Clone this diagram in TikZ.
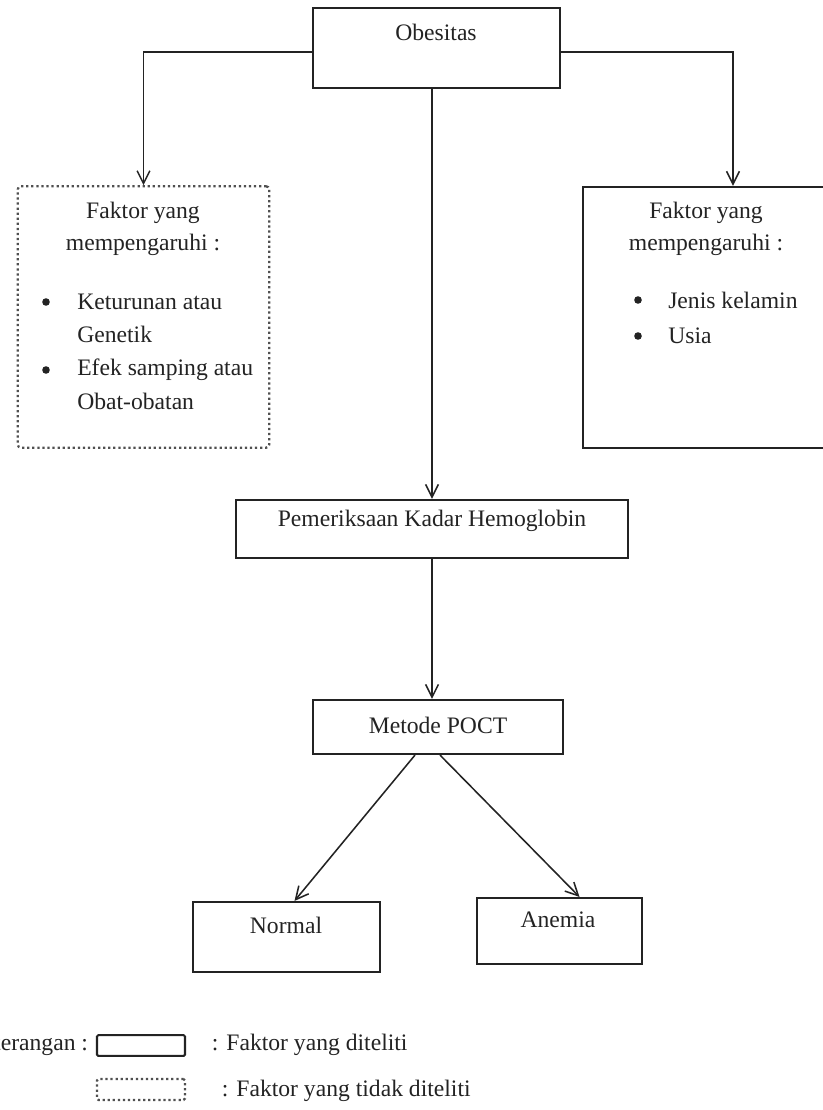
\documentclass[tikz,border=0pt]{standalone}
\usepackage{fontspec}
\setmainfont{Liberation Serif}
\usetikzlibrary{arrows.meta,calc}
\definecolor{inkgray}{RGB}{35,35,35}
\definecolor{dotgray}{RGB}{80,80,80}

\begin{document}
\begin{tikzpicture}[x=0.025cm, y=-0.025cm, >={Straight Barb[length=3.2mm,width=3.2mm]},
  font=\fontsize{16.8}{22.7}\selectfont, text=inkgray,
  box/.style={draw=inkgray, line width=1.5pt, inner sep=0pt},
  nobox/.style={draw=dotgray, line width=1.6pt, dotted, rounded corners=2pt, inner sep=0pt},
  dot/.style={circle, fill=inkgray, inner sep=0pt, minimum size=0.19cm},
  link/.style={draw=inkgray, line width=1.1pt}]
\useasboundingbox (0,0) rectangle (822,1110);

% boxes
\node[box, minimum width=6.18cm, minimum height=2.0cm] (obes) at (436.5,48) {};
\node[nobox, minimum width=6.28cm, minimum height=6.53cm] (fak1) at (143.5,317) {};
\node[box, minimum width=6.13cm, minimum height=6.53cm] (fak2) at (705.5,317.5) {};
\node[box, minimum width=9.8cm, minimum height=1.45cm] (pem) at (432,529) {};
\node[box, minimum width=6.25cm, minimum height=1.35cm] (met) at (438,727) {};
\node[box, minimum width=4.68cm, minimum height=1.75cm] (norm) at (286.5,937) {};
\node[box, minimum width=4.13cm, minimum height=1.65cm] (anem) at (559.5,931) {};

% texts
\node (obesT) at (436,32) {Obesitas};
\node[align=center] (fak1T) at (143,229) {Faktor yang\\mempengaruhi :};
\node[align=center] (fak2T) at (706,229) {Faktor yang\\mempengaruhi :};
\node (pemT) at (432,521) {Pemeriksaan Kadar Hemoglobin};
\node (metT) at (438,725) {Metode POCT};
\node (normT) at (286,925) {Normal};
\node (anemT) at (558,920) {Anemia};

\foreach \y/\t in {302/Keturunan atau, 334/Genetik, 370/Efek samping atau, 401/Obat-obatan}
  \node[anchor=west, inner sep=0pt] (fl\y) at (77,\y) {\t};
\foreach \y in {302,370}
  \node[dot] (fb\y) at (46,\y) {};
\foreach \y/\t in {300/Jenis kelamin, 336/Usia}{
  \node[anchor=west, inner sep=0pt] (gl\y) at (668,\y) {\t};
  \node[dot] (gb\y) at (638,\y) {};
}

% connectors
\draw[link, ->] ($(obes.west)+(0,4)$) -| (fak1.north);
\draw[link, ->] ($(obes.east)+(0,4)$) -| ($(fak2.north)+(27.5,0)$);
\draw[link, ->] (obes.south -| pem.north) -- (pem.north);
\draw[link] ($(fak2.west)+(0,-28)$) -- ($(fak2.west)+(0,-28)$ -| pem.north);
\draw[link, ->] (pem.south) -- (pem.south |- met.north);
\draw[link, ->] ($(met.south)+(-23,0)$) -- ($(norm.north)+(8,0)$);
\draw[link, ->] ($(met.south)+(2,0)$) -- ($(anem.north)+(20,0)$);

% legend
\node[anchor=east] (ket) at (93,1045) {Keterangan :};
\node[box, rounded corners=1pt, minimum width=2.2cm, minimum height=0.52cm] (legA) at (141,1045.5) {};
\node[anchor=west] (legAT) at (207,1045) {: Faktor yang diteliti};
\node[nobox, rounded corners=1pt, minimum width=2.2cm, minimum height=0.52cm] (legB) at (141,1089.5) {};
\node[anchor=west] (legBT) at (217,1091) {: Faktor yang tidak diteliti};
\end{tikzpicture}
\end{document}
